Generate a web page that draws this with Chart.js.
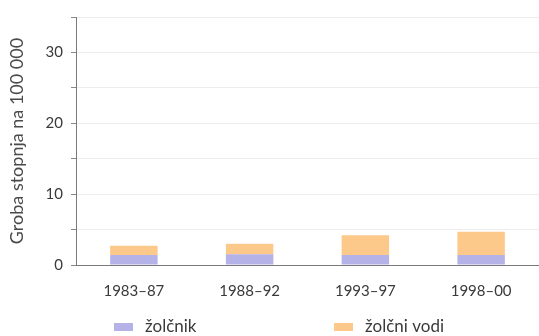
<!DOCTYPE html>
<html>
<head>
<meta charset="utf-8">
<script src="https://cdn.jsdelivr.net/npm/chart.js@4/dist/chart.umd.min.js"></script>
<style>
  html, body { margin: 0; padding: 0; background: #fff; }
  #wrap { position: relative; width: 539px; height: 336px; }
</style>
</head>
<body>
<div id="wrap"><canvas id="c" width="539" height="336"></canvas></div>
<script>
// Gross incidence per 100 000, by period
const periods = ['1983–87', '1988–92', '1993–97', '1998–00'];
const zolcnik = [1.4, 1.5, 1.4, 1.4];
const zolcniVodi = [1.3, 1.5, 2.8, 3.3];
const yTicks = [0, 10, 20, 30];

const FONT = 'Lato, "Noto Sans", sans-serif';
const TEXT = '#3a3a3a';

// Legend drawn under the axis, two items spread across the width
const bottomLegend = {
  id: 'bottomLegend',
  afterDraw(chart) {
    const ctx = chart.ctx;
    const xs = [114, 334];
    const y = 327;
    ctx.save();
    ctx.font = '17px ' + FONT;
    ctx.textBaseline = 'middle';
    chart.data.datasets.forEach((ds, i) => {
      const x = xs[i];
      ctx.fillStyle = ds.backgroundColor;
      ctx.fillRect(x, y - 4, 19, 8);
      ctx.fillStyle = TEXT;
      ctx.fillText(ds.label, x + 31, y);
    });
    ctx.restore();
  }
};

new Chart(document.getElementById('c'), {
  type: 'bar',
  data: {
    labels: periods,
    datasets: [
      { label: 'žolčnik', data: zolcnik, backgroundColor: '#b5b2e8' },
      { label: 'žolčni vodi', data: zolcniVodi, backgroundColor: '#fdc98a' }
    ]
  },
  options: {
    responsive: false,
    animation: false,
    devicePixelRatio: 1,
    layout: { padding: { top: 14, right: 0, left: 0, bottom: 0 } },
    plugins: { legend: { display: false }, tooltip: { enabled: false } },
    datasets: { bar: { barPercentage: 0.41, categoryPercentage: 1 } },
    scales: {
      x: {
        stacked: true,
        grid: { display: false, drawTicks: false },
        border: { color: '#7a7a7a', width: 1 },
        ticks: { color: TEXT, font: { family: FONT, size: 15 }, padding: 17, maxRotation: 0 },
        afterFit(scale) { scale.height = 71; }
      },
      y: {
        stacked: true,
        min: 0,
        max: 35,
        grid: { color: '#ededed', tickColor: '#8a8a8a', tickLength: 5 },
        border: { color: '#7a7a7a', width: 1 },
        ticks: {
          stepSize: 5,
          color: TEXT,
          font: { family: FONT, size: 15 },
          padding: 8,
          callback: v => yTicks.includes(v) ? String(v) : ''
        },
        title: {
          display: true,
          text: 'Groba stopnja na 100 000',
          color: '#4a4a4a',
          font: { family: FONT, size: 18 },
          padding: { top: 6, bottom: 0 }
        },
        afterFit(scale) { scale.width = 76; }
      }
    }
  },
  plugins: [bottomLegend]
});
</script>
</body>
</html>
